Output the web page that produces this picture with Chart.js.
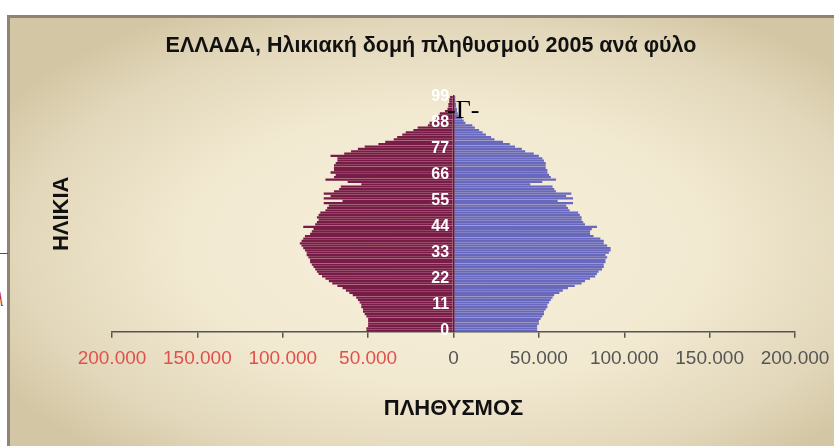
<!DOCTYPE html>
<html>
<head>
<meta charset="utf-8">
<script src="https://cdn.jsdelivr.net/npm/chart.js@4"></script>
<style>
  html, body { margin: 0; padding: 0; background: #fff; }
  body { width: 834px; height: 446px; position: relative; overflow: hidden; }
  .panel {
    position: absolute; left: 7px; top: 15px; width: 840px; height: 440px;
    border-left: 3px solid #8d8474; border-top: 3px solid #8d8474;
    background: radial-gradient(ellipse 62% 62% at 52% 52%, #f6efda 0%, #f2e9d1 50%, #e2d7ba 82%, #d3c6a4 100%);
  }
  #wrap { position: absolute; left: 0; top: 0; width: 834px; height: 446px; }
  .mark { position: absolute; left: 447px; top: 97px; font: 26px/26px 'Liberation Serif', 'DejaVu Serif', serif; color: #000; }
  .redline { position: absolute; left: 0; top: 253px; width: 8px; height: 1px; background: #b22a2a; }
  .redl { position: absolute; left: -5px; top: 288px; font: italic 20px 'Liberation Serif', serif; color: #b22a2a; }
</style>
</head>
<body>
<div class="panel"></div>
<div class="redline"></div>
<div class="redl">λ</div>
<div id="wrap"><canvas id="c"></canvas></div>
<div class="mark">-Γ-</div>
<script>
// ── Data (thousands of persons per single year of age) ──
const ages = Array.from({ length: 100 }, (_, i) => String(i));
const males = [
  51, 51, 50, 50, 50, 50, 51, 52, 53, 53,
  54, 54, 55, 56, 57, 59, 61, 63, 65, 68,
  71, 73, 75, 77, 79, 80, 81, 82, 83, 84,
  84, 85, 86, 86, 87, 88, 89, 90, 89, 88,
  87, 84, 83, 82, 88, 81, 80, 79, 80, 79,
  78, 75, 74, 73, 76, 65, 76, 72, 76, 70,
  67, 66, 54, 62, 75, 70, 69, 72, 70, 70,
  70, 69, 68, 68, 72, 64, 60, 56, 52, 44,
  40, 35, 33, 30, 28, 23.5, 21, 15, 14, 11,
  10, 9, 8, 5, 3.5, 3, 3, 2.5, 2.5, 2
];
const females = [
  49, 49, 49, 50, 50, 51, 52, 53, 53, 54,
  55, 55, 56, 57, 58, 59, 62, 64, 67, 71,
  75, 77, 80, 83, 84, 85, 87, 88, 88, 89,
  89, 90, 89, 91, 92, 92, 90, 88, 88, 86,
  82, 80, 80, 81, 84, 77, 76, 75, 75, 74,
  73, 68, 67, 66, 70, 61, 70, 66, 69, 60,
  59, 58, 45, 52, 60, 57, 56, 55, 55, 54,
  54, 54, 53, 52, 50, 47, 42, 40, 36, 33,
  29, 24, 22, 19, 17, 15, 12.5, 11, 7, 6,
  5, 3, 2.5, 2, 2, 1.5, 1.5, 1.2, 1, 1
];
const xTicks = [-200000, -150000, -100000, -50000, 0, 50000, 100000, 150000, 200000];

const FONT = "'Liberation Sans', Arial, sans-serif";
const fmtPop = v => String(Math.abs(v)).replace(/\B(?=(\d{3})+(?!\d))/g, '.');

new Chart(document.getElementById('c'), {
    type: 'bar',
    data: {
        labels: ages,
        datasets: [
            { label: 'Άνδρες', data: males.map(v => -v * 1000), backgroundColor: '#781b47',
              categoryPercentage: 0.96, barPercentage: 1 },
            { label: 'Γυναίκες', data: females.map(v => v * 1000), backgroundColor: '#6868be',
              categoryPercentage: 0.96, barPercentage: 1 }
        ]
    },
    options: {
        indexAxis: 'y', responsive: true, maintainAspectRatio: false, animation: false,
        layout: { padding: { left: 39, right: 11, top: 0, bottom: 24 } },
        scales: {
            x: {
                stacked: true, min: -200000, max: 200000,
                afterBuildTicks: s => { s.ticks = xTicks.map(v => ({ value: v })); },
                // plot ends 39px from the right edge, like the reference
                afterFit: s => { s.paddingRight = 39; },
                ticks: {
                    padding: 10, autoSkip: false, maxRotation: 0,
                    font: { family: FONT, size: 19 },
                    color: ctx => ctx.tick.value < 0 ? '#e0504c' : '#555',
                    callback: v => fmtPop(v)
                },
                grid: { drawOnChartArea: false, drawTicks: true, tickLength: 6, lineWidth: 1.5, color: '#555' },
                border: { display: true, color: '#555', width: 1.5 },
                title: { display: true, text: 'ΠΛΗΘΥΣΜΟΣ', color: '#111',
                    font: { family: FONT, size: 22, weight: 'bold' }, padding: { top: 15, bottom: 0 } }
            },
            y: {
                stacked: true, reverse: true, position: { x: 0 },
                grid: { display: false },
                // age axis sits on zero: its line covers the seam between the two halves
                border: { display: true, color: '#681640', width: 1.5, z: 1 },
                ticks: {
                    z: 2, autoSkip: false, color: '#fff',
                    font: { family: FONT, size: 16, weight: 'bold' },
                    callback: (v, i) => i % 11 === 0 ? ages[i] + ' ' : ''
                }
            },
            y2: {
                type: 'category', labels: ages, position: 'left', reverse: true,
                grid: { display: false }, border: { display: false },
                ticks: { display: false },
                afterFit: s => { s.width = 73; },
                title: { display: true, text: 'ΗΛΙΚΙΑ', color: '#111',
                    font: { family: FONT, size: 22, weight: 'bold' }, padding: { top: 10, bottom: 0 } }
            }
        },
        plugins: {
            legend: { display: false },
            tooltip: { enabled: false },
            title: {
                display: true, text: 'ΕΛΛΑΔΑ, Ηλικιακή δομή πληθυσμού 2005 ανά φύλο', color: '#111',
                font: { family: FONT, size: 21.5, weight: 'bold' }, padding: { top: 33, bottom: 37 }
            }
        }
    }
});
</script>
</body>
</html>
